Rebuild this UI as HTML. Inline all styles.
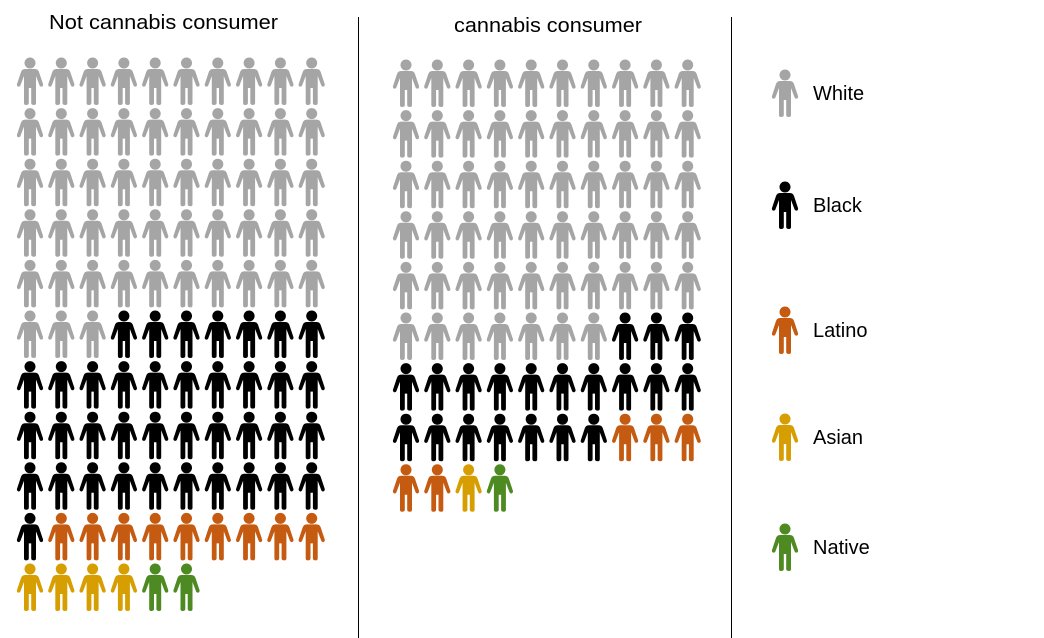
<!DOCTYPE html>
<html><head><meta charset="utf-8"><style>
body{margin:0;background:#fff;width:1044px;height:638px;overflow:hidden;font-family:"Liberation Sans",sans-serif}
svg{display:block}
</style></head><body>
<svg width="1044" height="638">
<defs>
<g id="person">
<circle cx="14" cy="6" r="5.5"/>
<path d="M9,12 H19 Q22,12 23,15 L27,27 Q27.5,29 25.8,29.6 Q24.3,30 23.6,28.5 L20,19 V46 Q20,48 18,48 Q15.2,48 15.2,46 V31 H12.8 V46 Q12.8,48 10,48 Q8,48 8,46 V19 L4.4,28.5 Q3.7,30 2.2,29.6 Q0.5,29 1,27 L5,15 Q6,12 9,12 Z"/>
</g>
</defs>
<text x="49" y="29" font-size="20" textLength="229" lengthAdjust="spacingAndGlyphs">Not cannabis consumer</text>
<text x="454" y="32" font-size="20" textLength="188" lengthAdjust="spacingAndGlyphs">cannabis consumer</text>
<line x1="358.5" y1="17" x2="358.5" y2="638" stroke="#000" stroke-width="1"/>
<line x1="731.5" y1="17" x2="731.5" y2="638" stroke="#000" stroke-width="1"/>
<g id="left-panel"></g>
<g id="right-panel"></g>
<g id="legend"></g>
</svg>
<script>
const groups=["White","Black","Latino","Asian","Native"];
const notConsumer=[53,38,9,4,2];
const consumer=[57,20,5,1,1];
const colors={White:"#A5A5A5",Black:"#000000",Latino:"#C55A11",Asian:"#D69E00",Native:"#4E8A22"};
const NS="http://www.w3.org/2000/svg";
function draw(gid,counts,x0,y0){
  const g=document.getElementById(gid);let i=0;
  counts.forEach((n,k)=>{for(let j=0;j<n;j++){
    const col=i%10,row=Math.floor(i/10);
    const u=document.createElementNS(NS,"use");
    u.setAttribute("href","#person");
    u.setAttribute("x",x0+col*31.3-14);u.setAttribute("y",y0+row*50.6);
    u.setAttribute("fill",colors[groups[k]]);
    
    
    g.appendChild(u);i++;}});
}
draw("left-panel",notConsumer,30,57);
draw("right-panel",consumer,406,59);
const lg=document.getElementById("legend");
const ly=[93,205,330,437,547];
groups.forEach((name,k)=>{
  const u=document.createElementNS(NS,"use");
  u.setAttribute("href","#person");u.setAttribute("x",771);u.setAttribute("y",ly[k]-24);
  u.setAttribute("fill",colors[name]);
  
  
  lg.appendChild(u);
  const t=document.createElementNS(NS,"text");
  t.setAttribute("x",813);t.setAttribute("y",ly[k]+7);t.setAttribute("font-size","20");
  t.textContent=name;
  
  
  lg.appendChild(t);
});
</script>
</body></html>
